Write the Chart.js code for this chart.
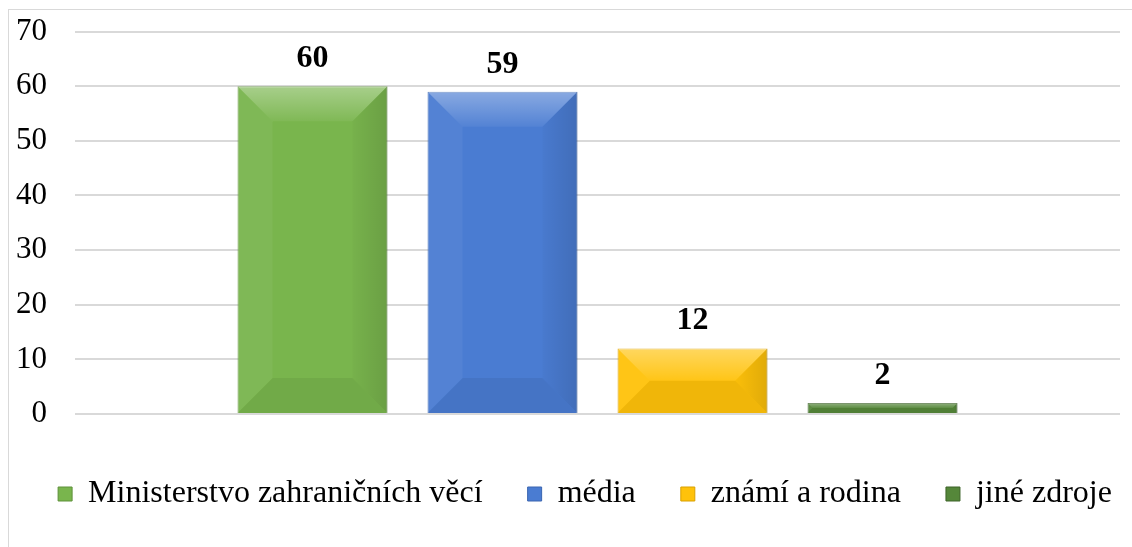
<!DOCTYPE html>
<html>
<head>
<meta charset="utf-8">
<script src="https://cdn.jsdelivr.net/npm/chart.js@4.4.0/dist/chart.umd.min.js"></script>
<style>
  html, body { margin: 0; padding: 0; background: #ffffff; }
  #wrap { position: relative; width: 1132px; height: 547px; overflow: hidden; }
  #frame { position: absolute; left: 8px; top: 9px; width: 1200px; height: 600px;
           border-left: 1px solid #d9d9d9; border-top: 1px solid #d9d9d9; }
  canvas { position: absolute; left: 0; top: -15px; }
</style>
</head>
<body>
<div id="wrap">
  <div id="frame"></div>
  <canvas id="c" width="1160" height="535"></canvas>
</div>
<script>
const categories = [""];
const seriesNames = ["Ministerstvo zahraničních věcí", "média", "známí a rodina", "jiné zdroje"];
const seriesValues = [60, 59, 12, 2];
const seriesColors = ["#79b54d", "#4a7cd2", "#ffc20a", "#55873a"];
const seriesBorders = ["#5f913a", "#3a65b0", "#d9a000", "#3d6328"];
const yTicks = [0, 10, 20, 30, 40, 50, 60, 70];

const FONT = "'Liberation Serif', 'Times New Roman', serif";

const bevelPlugin = {
  id: 'bevel',
  afterDatasetDraw(chart, args) {
    const ctx = chart.ctx;
    const meta = args.meta;
    meta.data.forEach(el => {
      const p = el.getProps(['x', 'y', 'base', 'width'], true);
      const l = p.x - p.width / 2, r = p.x + p.width / 2;
      const t = Math.min(p.y, p.base), b = Math.max(p.y, p.base);
      const h = b - t;
      const d = Math.min(35, h / 2, p.width / 2);
      ctx.save();
      ctx.beginPath();
      ctx.moveTo(l, t); ctx.lineTo(r, t); ctx.lineTo(r - d, t + d); ctx.lineTo(l + d, t + d); ctx.closePath();
      let g = ctx.createLinearGradient(0, t, 0, t + d);
      g.addColorStop(0, 'rgba(255,255,255,0.35)');
      g.addColorStop(1, 'rgba(255,255,255,0.05)');
      ctx.fillStyle = g; ctx.fill();
      ctx.beginPath();
      ctx.moveTo(l, t); ctx.lineTo(l + d, t + d); ctx.lineTo(l + d, b - d); ctx.lineTo(l, b); ctx.closePath();
      ctx.fillStyle = 'rgba(255,255,255,0.05)'; ctx.fill();
      ctx.beginPath();
      ctx.moveTo(r, t); ctx.lineTo(r - d, t + d); ctx.lineTo(r - d, b - d); ctx.lineTo(r, b); ctx.closePath();
      g = ctx.createLinearGradient(r - d, 0, r, 0);
      g.addColorStop(0, 'rgba(0,0,0,0.02)');
      g.addColorStop(1, 'rgba(0,0,0,0.12)');
      ctx.fillStyle = g; ctx.fill();
      ctx.beginPath();
      ctx.moveTo(l, b); ctx.lineTo(l + d, b - d); ctx.lineTo(r - d, b - d); ctx.lineTo(r, b); ctx.closePath();
      ctx.fillStyle = 'rgba(0,0,0,0.06)'; ctx.fill();
      ctx.restore();
    });
  }
};

const valueLabels = {
  id: 'valueLabels',
  afterDatasetsDraw(chart) {
    const ctx = chart.ctx;
    ctx.save();
    ctx.font = "bold 32px " + FONT;
    ctx.fillStyle = '#000';
    ctx.textAlign = 'center';
    ctx.textBaseline = 'alphabetic';
    chart.data.datasets.forEach((ds, i) => {
      const meta = chart.getDatasetMeta(i);
      meta.data.forEach((el, j) => {
        ctx.fillText(String(ds.data[j]), el.x, el.y - 19);
      });
    });
    ctx.restore();
  }
};

new Chart(document.getElementById('c'), {
  type: 'bar',
  data: {
    labels: categories,
    datasets: seriesNames.map((n, i) => ({
      label: n,
      data: [seriesValues[i]],
      backgroundColor: seriesColors[i],
      borderColor: seriesBorders[i],
      borderWidth: 1,
      categoryPercentage: 0.7273,
      barPercentage: 0.789
    }))
  },
  options: {
    responsive: false,
    animation: false,
    devicePixelRatio: 1,
    layout: { padding: { left: 10, right: 0, top: 8, bottom: 0 } },
    scales: {
      x: {
        grid: { display: false, drawTicks: false },
        border: { display: false },
        ticks: { display: false },
        afterFit(axis) { axis.height = 19; }
      },
      y: {
        min: 0, max: 70,
        afterBuildTicks(axis) { axis.ticks = yTicks.map(v => ({ value: v })); },
        afterFit(axis) { axis.width = 65; },
        grid: { color: '#d9d9d9', lineWidth: 2, drawTicks: false },
        border: { display: false },
        ticks: { padding: 28, color: '#000', font: { family: FONT, size: 31 } }
      },
      yRight: {
        type: 'linear',
        position: 'right',
        min: 0, max: 70,
        grid: { display: false, drawTicks: false },
        border: { display: false },
        ticks: { display: false },
        afterFit(axis) { axis.width = 40; }
      }
    },
    plugins: {
      legend: {
        position: 'bottom',
        labels: {
          color: '#000',
          font: { family: FONT, size: 32 },
          boxWidth: 14, boxHeight: 14,
          padding: 45,
          generateLabels(chart) {
            return chart.data.datasets.map((ds, i) => ({
              text: ds.label, fillStyle: ds.backgroundColor, strokeStyle: ds.borderColor,
              lineWidth: 1, datasetIndex: i, hidden: false
            }));
          }
        }
      },
      tooltip: { enabled: false }
    }
  },
  plugins: [bevelPlugin, valueLabels]
});
</script>
</body>
</html>
